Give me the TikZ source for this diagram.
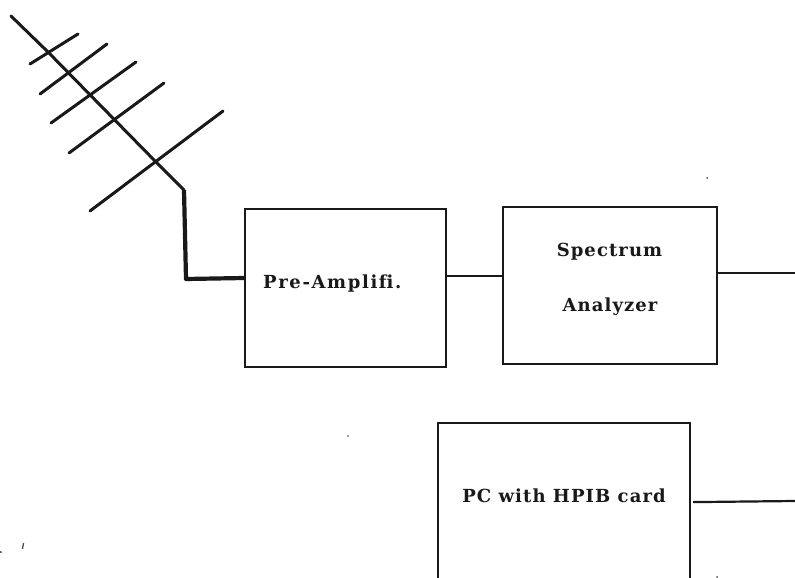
\documentclass[tikz,border=0pt]{standalone}
\usepackage{fontspec}
\setmainfont{DejaVu Serif}
\begin{document}
\begin{tikzpicture}[x=1pt,y=-1pt,
 wire/.style={line width=2.2pt,black!90},
 thick wire/.style={line width=4.2pt,black!90,line join=round},
 elem/.style={line width=3pt,black!90,line cap=round},
 blockbox/.style={draw=black!90,line width=2.2pt,inner sep=0pt,anchor=north west},
 lbl/.style={font=\fontsize{18}{20}\selectfont\bfseries\addfontfeatures{LetterSpace=6},text=black!90,inner sep=0pt,anchor=base}]
\useasboundingbox (0,0) rectangle (795,578);
\fill[white] (0,0) rectangle (795,578);
% boxes
\node[blockbox,minimum width=201pt,minimum height=158pt] (pre) at (244,208) {};
\node[blockbox,minimum width=214pt,minimum height=157pt] (spec) at (502,206) {};
\node[blockbox,minimum width=252pt,minimum height=158pt] (pc) at (437,422) {};
\node[lbl,anchor=base west,font=\fontsize{18}{20}\selectfont\bfseries\addfontfeatures{LetterSpace=9}] (t1) at (263,288) {Pre-Amplif\kern0pt i.};
\node[lbl] (t2) at (609.5,256) {Spectrum};
\node[lbl] (t3) at (610,311) {Analyzer};
\node[lbl] (t4) at (564,502) {PC with HPIB card};
% connectors
\coordinate (e1) at (795,273);
\coordinate (e2) at (795,501);
\coordinate (p1) at (445,276);
\coordinate (s1) at (502,276);
\coordinate (s2) at (716,273);
\draw[wire] (p1) -- (s1);
\draw[wire] (s2) -- (e1);
\draw[wire] ([xshift=2pt]pc.east) -- (e2);
% antenna
\coordinate (ta) at (11,16);
\coordinate (fp) at (184,190);
\coordinate (pi) at (244,278);
\draw[elem] (ta) -- (48,52) -- (156,162) -- (fp);
\draw[thick wire] (fp) -- (186,279) -- (pi);
\draw[elem] (30,64) -- (78,34);
\draw[elem] (40,94) -- (107,44);
\draw[elem] (51,123) -- (136,62);
\draw[elem] (69,153) -- (164,83);
\draw[elem] (90,211) -- (223,111);
% specks
\fill[black!70] (707,178) circle (1);
\fill[black!70] (348,436) circle (.8);
\fill[black!70] (0.8,552) circle (1.2);
\draw[black!70,line width=1.3pt] (23.5,543) -- (22.5,549);
\fill[black!70] (717,577) circle (1);
\end{tikzpicture}
\end{document}
